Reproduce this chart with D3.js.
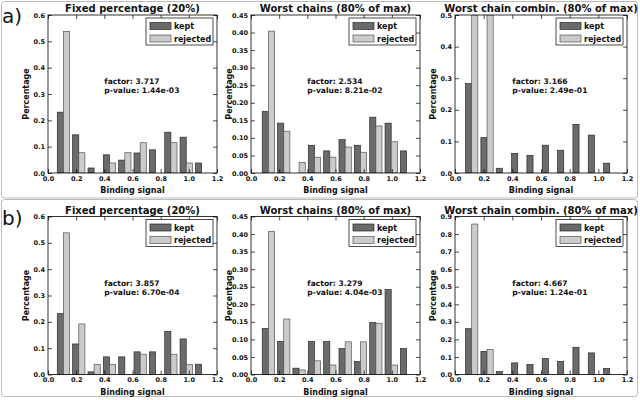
<!DOCTYPE html>
<html><head><meta charset="utf-8">
<script src="https://cdn.jsdelivr.net/npm/d3@7"></script>
<style>body{margin:0;background:#fff}svg{display:block}text{font-family:"DejaVu Sans",sans-serif}</style>
</head><body><svg id="c" width="640" height="400"></svg>
<script>
const rowLabels = ["a)", "b)"];
const titles = ["Fixed percentage (20%)", "Worst chains (80% of max)", "Worst chain combin. (80% of max)"];
const xTicks = [0.0, 0.2, 0.4, 0.6, 0.8, 1.0, 1.2];
const binStarts = [0.055, 0.069, 0.063];
const binWidths = [0.109, 0.109, 0.107];
const yMaxes = [[0.6, 0.45, 0.5], [0.6, 0.45, 0.9]];
const yTickSteps = [[0.1, 0.05, 0.1], [0.1, 0.05, 0.1]];
const yTickFormats = [[".1f", ".2f", ".1f"], [".1f", ".2f", ".1f"]];
const factors = [["3.717", "2.534", "3.166"], ["3.857", "3.279", "4.667"]];
const pvalues = [["1.44e-03", "8.21e-02", "2.49e-01"], ["6.70e-04", "4.04e-03", "1.24e-01"]];
const keptA1 = [0.231, 0.145, 0.019, 0.069, 0.049, 0.076, 0.088, 0.155, 0.136, 0.038];
const rejA1  = [0.538, 0.077, 0, 0.038, 0.077, 0.115, 0, 0.115, 0.038, 0];
const keptA2 = [0.175, 0.142, 0, 0.079, 0.063, 0.095, 0.079, 0.159, 0.142, 0.063];
const rejA2  = [0.404, 0.119, 0.030, 0.045, 0.045, 0.074, 0.059, 0.134, 0.089, 0];
const keptA3 = [0.283, 0.112, 0.015, 0.062, 0.056, 0.088, 0.072, 0.154, 0.120, 0.031];
const rejA3  = [0.5, 0.5, 0, 0, 0, 0, 0, 0, 0, 0];
const keptB1 = [0.231, 0.116, 0.010, 0.067, 0.067, 0.086, 0.086, 0.164, 0.135, 0.039];
const rejB1  = [0.538, 0.192, 0.038, 0.038, 0, 0.077, 0, 0.077, 0.038, 0];
const keptB2 = [0.131, 0.094, 0.018, 0.094, 0.094, 0.074, 0.037, 0.148, 0.242, 0.074];
const rejB2  = [0.407, 0.158, 0.013, 0.039, 0.027, 0.093, 0.093, 0.146, 0.027, 0];
const keptB3 = [0.261, 0.131, 0.017, 0.066, 0.057, 0.091, 0.074, 0.155, 0.123, 0.034];
const rejB3  = [0.857, 0.143, 0, 0, 0, 0, 0, 0, 0, 0];
const kept = [[keptA1, keptA2, keptA3], [keptB1, keptB2, keptB3]];
const rejected = [[rejA1, rejA2, rejA3], [rejB1, rejB2, rejB3]];
const seriesNames = ["kept", "rejected"];

const svg = d3.select("#c");
const rowTop = [15, 216.5], plotH = 158;
const colL = [48, 251, 455], colR = [217, 420, 627];
const fills = ["#6b6b6b", "#cbcbcb"], strokes = ["#2a2a2a", "#555"];

// row frames
[[1.5, 1.5, 196.5], [1.5, 199.5, 197]].forEach(([x, y, h]) =>
  svg.append("rect").attr("x", x).attr("y", y).attr("width", 636).attr("height", h)
    .attr("rx", 3).attr("fill", "none").attr("stroke", "#bbb").attr("stroke-width", 1));

rowLabels.forEach((lab, r) => {
  svg.append("text").attr("x", 2).attr("y", rowTop[r] + 8).attr("font-size", 20)
    .attr("fill", "#111").text(lab);
});

for (let r = 0; r < 2; r++) {
  for (let c = 0; c < 3; c++) {
    const top = rowTop[r], bot = top + plotH, L = colL[c], R = colR[c];
    const x = d3.scaleLinear().domain([0, 1.2]).range([L, R]);
    const yMax = yMaxes[r][c];
    const y = d3.scaleLinear().domain([0, yMax]).range([bot, top]);
    const g = svg.append("g");
    const clipId = `clip${r}${c}`;
    g.append("clipPath").attr("id", clipId).append("rect")
      .attr("x", L).attr("y", top).attr("width", R - L).attr("height", plotH);
    const bw = binWidths[c], b0 = binStarts[c];
    const bars = g.append("g").attr("clip-path", `url(#${clipId})`);
    [kept[r][c], rejected[r][c]].forEach((vals, s) => {
      vals.forEach((v, i) => {
        if (v <= 0) return;
        const x0 = b0 + i * bw + bw * (0.1 + 0.4 * s);
        const x1 = x0 + bw * 0.4;
        bars.append("rect").attr("x", x(x0)).attr("width", x(x1) - x(x0))
          .attr("y", y(Math.min(v, yMax * 1.02))).attr("height", y(0) - y(Math.min(v, yMax * 1.02)))
          .attr("fill", fills[s]).attr("stroke", strokes[s]).attr("stroke-width", 0.7);
      });
    });
    // frame
    g.append("rect").attr("x", L).attr("y", top).attr("width", R - L).attr("height", plotH)
      .attr("fill", "none").attr("stroke", "#000").attr("stroke-width", 0.8);
    // ticks
    const yt = d3.range(0, yMax + 1e-9, yTickSteps[r][c]);
    const fmt = d3.format(yTickFormats[r][c]);
    const bAx = d3.axisBottom(x).tickValues(xTicks).tickFormat(d3.format(".1f")).tickSizeInner(-4).tickSizeOuter(0).tickPadding(3);
    const tAx = d3.axisTop(x).tickValues(xTicks).tickFormat("").tickSizeInner(-4).tickSizeOuter(0);
    const lAx = d3.axisLeft(y).tickValues(yt).tickFormat(fmt).tickSizeInner(-4).tickSizeOuter(0).tickPadding(3);
    const rAx = d3.axisRight(y).tickValues(yt).tickFormat("").tickSizeInner(-4).tickSizeOuter(0);
    [[bAx, `translate(0,${bot})`], [tAx, `translate(0,${top})`], [lAx, `translate(${L},0)`], [rAx, `translate(${R},0)`]]
      .forEach(([ax, tr]) => {
        const a = g.append("g").attr("transform", tr).call(ax);
        a.select(".domain").remove();
        a.selectAll("line").attr("stroke", "#000").attr("stroke-width", 0.7);
        a.selectAll("text").attr("font-size", 6.5).attr("font-weight", "bold").attr("fill", "#111")
          .attr("font-family", "DejaVu Sans");
      });
    // title
    g.append("text").attr("x", (L + R) / 2).attr("y", top - 3).attr("text-anchor", "middle")
      .attr("font-size", 10).attr("font-weight", "bold").attr("fill", "#111").text(titles[c]);
    // axis labels
    g.append("text").attr("x", (L + R) / 2).attr("y", bot + 20).attr("text-anchor", "middle")
      .attr("font-size", 8).attr("font-weight", "bold").attr("fill", "#111").text("Binding signal");
    g.append("text").attr("transform", `translate(${L - 19},${top + plotH / 2}) rotate(-90)`)
      .attr("text-anchor", "middle").attr("font-size", 8).attr("font-weight", "bold").attr("fill", "#111").text("Percentage");
    // annotation
    const ay = bot - plotH * 0.563;
    g.append("text").attr("x", x(0.4)).attr("y", ay).attr("font-size", 7.6).attr("font-weight", "bold")
      .attr("fill", "#111").text("factor: " + factors[r][c]);
    g.append("text").attr("x", x(0.4)).attr("y", ay + 9).attr("font-size", 7.6).attr("font-weight", "bold")
      .attr("fill", "#111").text("p-value: " + pvalues[r][c]);
    // legend
    const lx = R - 71, ly = top + 3;
    g.append("rect").attr("x", lx).attr("y", ly).attr("width", 67).attr("height", 27)
      .attr("fill", "#fff").attr("stroke", "#000").attr("stroke-width", 0.7);
    seriesNames.forEach((nm, s) => {
      const cy = ly + 8 + s * 12.5;
      g.append("rect").attr("x", lx + 4).attr("y", cy - 3.5).attr("width", 21).attr("height", 7)
        .attr("fill", fills[s]).attr("stroke", strokes[s]).attr("stroke-width", 0.7);
      g.append("text").attr("x", lx + 28).attr("y", cy + 3).attr("font-size", 8).attr("font-weight", "bold")
        .attr("fill", "#111").text(nm);
    });
  }
}
</script></body></html>
